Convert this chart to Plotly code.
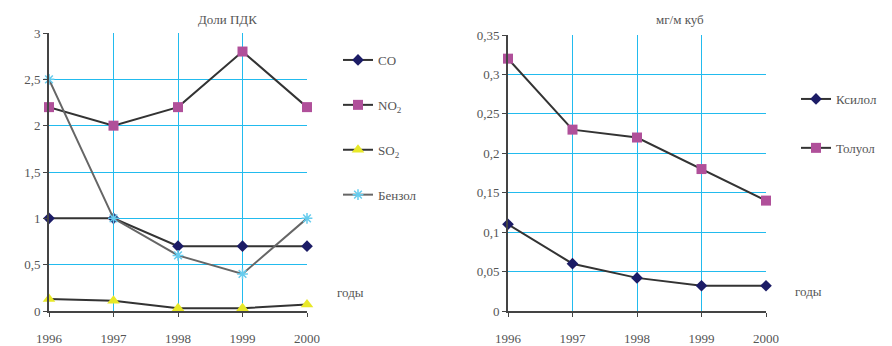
import plotly.graph_objects as go

years = [1996, 1997, 1998, 1999, 2000]

# Left chart (доли ПДК)
co = [1.0, 1.0, 0.7, 0.7, 0.7]
no2 = [2.2, 2.0, 2.2, 2.8, 2.2]
so2 = [0.13, 0.11, 0.03, 0.03, 0.07]
benzol = [2.5, 1.0, 0.6, 0.4, 1.0]

# Right chart (мг/м куб)
ksilol = [0.11, 0.06, 0.042, 0.032, 0.032]
toluol = [0.32, 0.23, 0.22, 0.18, 0.14]

left_names = ["CO", "NO<sub>2</sub>", "SO<sub>2</sub>", "Бензол"]
right_names = ["Ксилол", "Толуол"]

FONT = "Liberation Serif, Times New Roman, serif"
TXT = "#555555"
GRID = "#22bbee"
AXIS = "#444444"
LINE = "#333333"

fig = go.Figure()

def add(x, y, name, symbol, mcolor, xa, ya, legend, group, size=8, lcolor=LINE, open_=False):
    marker = dict(symbol=symbol, size=size, color=mcolor)
    if open_:
        marker["line"] = dict(color=mcolor, width=1.5)
    fig.add_trace(go.Scatter(
        x=x, y=y, name=name, mode="lines+markers",
        line=dict(color=lcolor, width=2),
        marker=marker, xaxis=xa, yaxis=ya, legend=legend,
        legendgroup=group, cliponaxis=False,
    ))

add(years, co, left_names[0], "diamond", "#1c1c66", "x", "y", "legend", "a", size=9)
add(years, no2, left_names[1], "square", "#b0509a", "x", "y", "legend", "b", size=10)
add(years, so2, left_names[2], "triangle-up", "#e8e828", "x", "y", "legend", "c", size=11)
add(years, benzol, left_names[3], "asterisk-open", "#66ccee", "x", "y", "legend", "d",
    size=9, lcolor="#666666", open_=True)

add(years, ksilol, right_names[0], "diamond", "#1c1c66", "x2", "y2", "legend2", "e", size=9)
add(years, toluol, right_names[1], "square", "#b0509a", "x2", "y2", "legend2", "f", size=10)

def xaxis(domain, anchor):
    return dict(domain=domain, anchor=anchor, range=[1996, 2000], tickvals=years,
                ticktext=[str(v) for v in years], showgrid=True, gridcolor=GRID, gridwidth=1,
                showline=True, linecolor=AXIS, linewidth=2, ticks="outside", ticklen=4,
                tickcolor=AXIS, zeroline=False, automargin=False, ticklabelstandoff=10,
                tickfont=dict(family=FONT, size=13, color=TXT))

def yaxis(domain, anchor, rng, dtick):
    return dict(domain=domain, anchor=anchor, range=rng, dtick=dtick, tick0=0,
                showgrid=True, gridcolor=GRID, gridwidth=1,
                showline=True, linecolor=AXIS, linewidth=2, ticks="outside", ticklen=4,
                tickcolor=AXIS, zeroline=False, automargin=False,
                tickfont=dict(family=FONT, size=13, color=TXT))

legend_common = dict(
    font=dict(family=FONT, size=13, color=TXT), bgcolor="rgba(0,0,0,0)",
    itemwidth=30, xanchor="left", yanchor="top",
)

ann_font = dict(family=FONT, size=13, color=TXT)

fig.update_layout(
    width=892, height=346,
    margin=dict(l=0, r=0, t=0, b=0),
    paper_bgcolor="white", plot_bgcolor="white",
    separators=", ",
    font=dict(family=FONT, size=13, color=TXT),
    xaxis=xaxis([49/892, 307/892], "y"),
    yaxis=yaxis([1-311/346, 1-33/346], "x", [0, 3], 0.5),
    xaxis2=xaxis([508/892, 766/892], "y2"),
    yaxis2=yaxis([1-311/346, 1-35/346], "x2", [0, 0.35], 0.05),
    legend=dict(x=338/892, y=1-45/346, tracegroupgap=25, **legend_common),
    legend2=dict(x=796/892, y=1-84/346, tracegroupgap=29, **legend_common),
    annotations=[
        dict(text="Доли ПДК", x=227/892, y=1-20/346, xref="paper", yref="paper",
             xanchor="center", yanchor="middle", showarrow=False, font=ann_font),
        dict(text="мг/м куб", x=680/892, y=1-20/346, xref="paper", yref="paper",
             xanchor="center", yanchor="middle", showarrow=False, font=ann_font),
        dict(text="годы", x=350/892, y=1-292/346, xref="paper", yref="paper",
             xanchor="center", yanchor="middle", showarrow=False, font=ann_font),
        dict(text="годы", x=808/892, y=1-291/346, xref="paper", yref="paper",
             xanchor="center", yanchor="middle", showarrow=False, font=ann_font),
    ],
)

fig.write_html("out.html")
